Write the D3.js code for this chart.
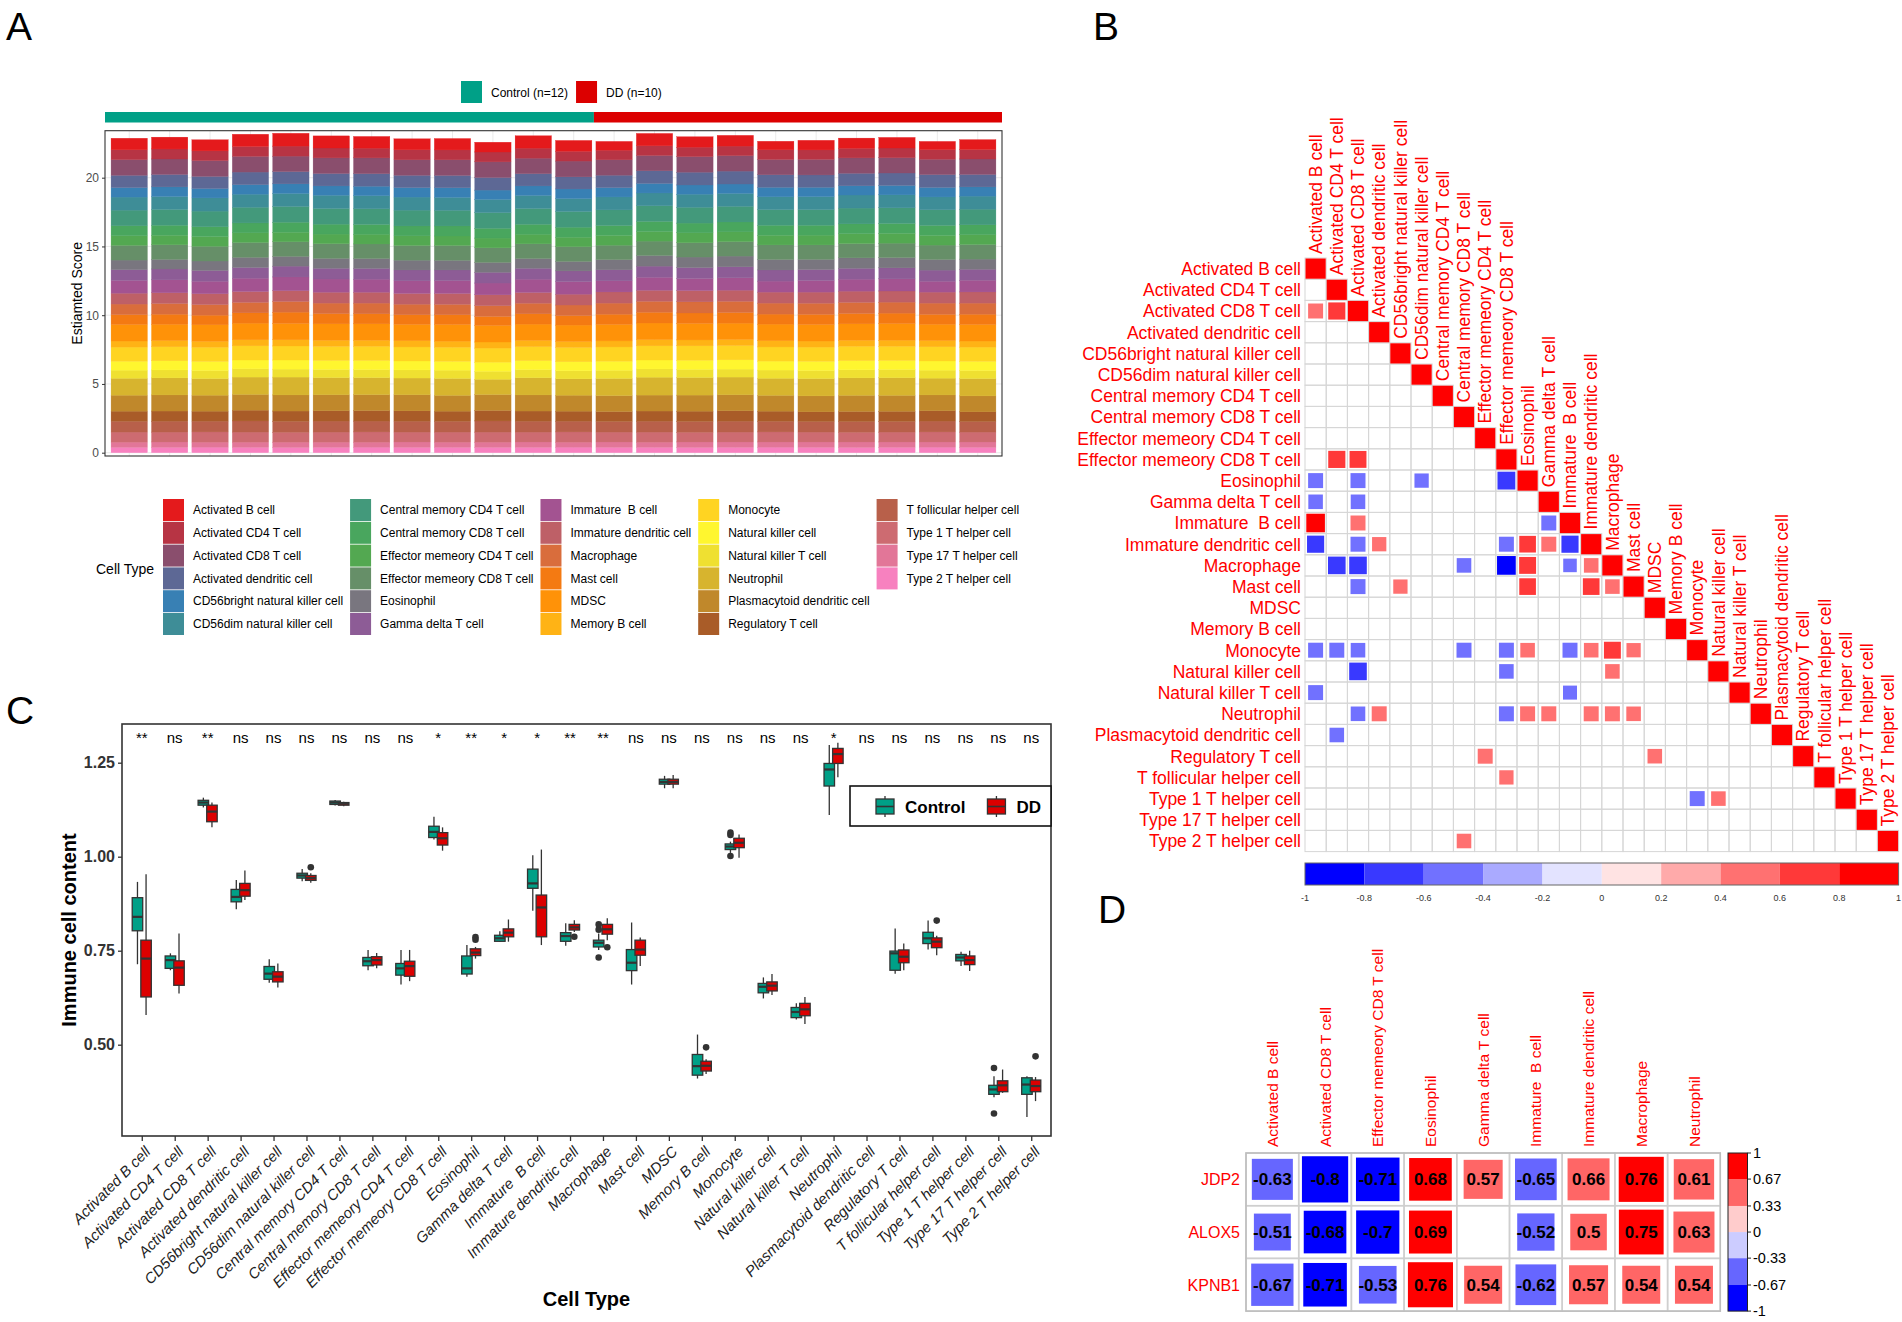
<!DOCTYPE html>
<html>
<head>
<meta charset="utf-8">
<script src="https://cdn.jsdelivr.net/npm/d3@7"></script>
<style>
  body { margin: 0; background: #fff; }
  text { font-family: "Liberation Sans", Arial, Helvetica, sans-serif; white-space: pre; }
</style>
</head>
<body>
<svg id="fig" width="1902" height="1322"></svg>
<script>
// ---------- data ----------
const cellTypes = [
  "Activated B cell", "Activated CD4 T cell", "Activated CD8 T cell", "Activated dendritic cell",
  "CD56bright natural killer cell", "CD56dim natural killer cell", "Central memory CD4 T cell",
  "Central memory CD8 T cell", "Effector memeory CD4 T cell", "Effector memeory CD8 T cell",
  "Eosinophil", "Gamma delta T cell", "Immature  B cell", "Immature dendritic cell", "Macrophage",
  "Mast cell", "MDSC", "Memory B cell", "Monocyte", "Natural killer cell", "Natural killer T cell",
  "Neutrophil", "Plasmacytoid dendritic cell", "Regulatory T cell", "T follicular helper cell",
  "Type 1 T helper cell", "Type 17 T helper cell", "Type 2 T helper cell"
];
const groups = ["Control", "DD"];
const groupLabels = ["Control (n=12)", "DD (n=10)"];

// panel A: estimated score per sample (rows = cell types), 12 Control + 10 DD samples
const scoreControl = [
  [.84,.86,.81,.89,.93,.88,.85,.80,.83,.71,.90,.79],
  [.72,.73,.71,.72,.73,.72,.71,.73,.72,.72,.73,.71],
  [1.14,1.13,1.15,1.14,1.13,1.14,1.15,1.13,1.14,1.14,1.13,1.15],
  [.89,.90,.88,.92,.89,.90,.91,.89,.89,.91,.89,.88],
  [.69,.70,.68,.69,.70,.68,.69,.69,.70,.68,.69,.70],
  [.95,.94,.96,.95,.94,.96,.95,.95,.94,.96,.95,.94],
  [1.14,1.15,1.14,1.14,1.15,1.14,1.14,1.15,1.14,1.14,1.15,1.14],
  [.72,.73,.71,.72,.73,.72,.71,.72,.73,.71,.72,.73],
  [.70,.69,.71,.70,.69,.70,.71,.70,.69,.71,.70,.69],
  [1.07,1.06,1.07,1.08,1.06,1.07,1.06,1.07,1.08,1.06,1.07,1.07],
  [.70,.70,.69,.74,.71,.72,.72,.71,.70,.72,.71,.69],
  [.78,.79,.78,.78,.79,.78,.78,.79,.78,.78,.79,.78],
  [.93,.94,.91,.97,1.00,.96,.95,.92,.93,.86,.97,.91],
  [.79,.78,.79,.79,.78,.79,.79,.78,.79,.79,.78,.79],
  [.77,.78,.77,.76,.78,.77,.78,.77,.76,.78,.77,.77],
  [.72,.73,.70,.75,.82,.74,.73,.70,.71,.66,.75,.69],
  [1.20,1.19,1.20,1.21,1.19,1.20,1.20,1.19,1.21,1.20,1.19,1.20],
  [.44,.45,.43,.44,.45,.44,.43,.45,.44,.44,.45,.43],
  [1.03,1.02,1.04,1.03,1.02,1.03,1.04,1.02,1.03,1.03,1.02,1.04],
  [.65,.66,.65,.64,.66,.65,.66,.65,.64,.66,.65,.65],
  [.59,.58,.59,.60,.58,.59,.58,.59,.60,.58,.59,.59],
  [1.23,1.24,1.21,1.26,1.30,1.25,1.24,1.22,1.23,1.11,1.25,1.19],
  [1.16,1.17,1.16,1.15,1.17,1.16,1.16,1.17,1.15,1.16,1.17,1.16],
  [.74,.74,.73,.78,.75,.75,.76,.75,.74,.76,.74,.73],
  [.78,.79,.78,.81,.79,.80,.79,.79,.78,.81,.79,.78],
  [.73,.72,.74,.73,.72,.73,.74,.72,.73,.73,.72,.74],
  [.38,.39,.37,.38,.39,.38,.37,.39,.38,.38,.39,.37],
  [.39,.39,.40,.39,.38,.39,.40,.39,.39,.39,.39,.40]
];
const scoreDD = [
  [.64,.90,.76,.78,.62,.70,.74,.77,.60,.72],
  [.70,.71,.69,.70,.71,.69,.70,.71,.70,.69],
  [1.12,1.11,1.13,1.12,1.11,1.13,1.12,1.11,1.12,1.13],
  [.90,.92,.93,.94,.91,.90,.91,.91,.93,.90],
  [.68,.69,.67,.68,.69,.68,.67,.68,.69,.67],
  [.94,.93,.95,.94,.93,.94,.95,.94,.93,.95],
  [1.14,1.14,1.15,1.14,1.14,1.14,1.15,1.14,1.14,1.14],
  [.72,.73,.71,.72,.73,.72,.71,.72,.73,.72],
  [.71,.70,.72,.71,.70,.71,.72,.71,.70,.71],
  [1.05,1.05,1.04,1.05,1.06,1.05,1.04,1.05,1.05,1.06],
  [.74,.77,.77,.78,.76,.74,.76,.75,.77,.74],
  [.80,.81,.79,.80,.81,.80,.79,.80,.81,.80],
  [.81,.95,.88,.90,.80,.84,.87,.88,.79,.85],
  [.81,.80,.82,.81,.80,.81,.82,.81,.80,.81],
  [.81,.80,.81,.82,.80,.81,.81,.80,.82,.81],
  [.74,.78,.76,.77,.73,.74,.75,.76,.72,.75],
  [1.20,1.21,1.20,1.19,1.21,1.20,1.20,1.21,1.19,1.20],
  [.44,.45,.43,.44,.45,.44,.43,.44,.45,.44],
  [1.04,1.03,1.05,1.04,1.03,1.04,1.05,1.04,1.03,1.04],
  [.66,.65,.66,.67,.65,.66,.66,.65,.67,.66],
  [.59,.60,.59,.58,.60,.59,.59,.60,.58,.59],
  [1.25,1.30,1.28,1.29,1.24,1.26,1.27,1.28,1.22,1.26],
  [1.16,1.16,1.17,1.16,1.15,1.16,1.17,1.16,1.15,1.16],
  [.72,.74,.75,.76,.74,.71,.74,.74,.75,.71],
  [.77,.79,.78,.79,.77,.76,.77,.77,.79,.76],
  [.72,.73,.71,.72,.73,.72,.71,.72,.73,.72],
  [.39,.38,.40,.39,.38,.39,.40,.39,.38,.39],
  [.39,.39,.38,.39,.40,.39,.38,.39,.40,.39]
];
const scoreTicks = [0, 5, 10, 15, 20];

// panel C: box statistics [lower whisker, q1, median, q3, upper whisker]
const boxControl = [
  [.714,.803,.840,.891,.933], [.698,.703,.725,.736,.743], [1.131,1.137,1.144,1.150,1.157],
  [.860,.880,.893,.913,.938], [.665,.674,.689,.708,.727], [.935,.943,.950,.956,.967],
  [1.136,1.139,1.144,1.148,1.151], [.698,.710,.722,.732,.752], [.660,.685,.703,.716,.752],
  [1.046,1.051,1.066,1.081,1.106], [.681,.688,.703,.736,.765], [.774,.775,.783,.791,.802],
  [.856,.916,.929,.967,1.004], [.763,.775,.789,.798,.823], [.752,.760,.771,.778,.796],
  [.660,.697,.718,.753,.825], [1.182,1.193,1.199,1.206,1.215], [.410,.419,.443,.474,.527],
  [1.010,1.019,1.027,1.034,1.040], [.623,.638,.654,.663,.679], [.567,.572,.587,.599,.610],
  [1.111,1.188,1.232,1.248,1.297], null, [.689,.698,.743,.749,.809],
  [.753,.769,.783,.799,.830], [.709,.723,.732,.740,.747], [.360,.368,.381,.392,.416],
  [.308,.368,.394,.412,.416]
];
const boxDD = [
  [.579,.627,.729,.778,.953], [.636,.658,.705,.723,.796], [1.078,1.093,1.120,1.137,1.144],
  [.885,.895,.911,.929,.963], [.652,.667,.681,.694,.716], [.931,.937,.943,.950,.956],
  [1.134,1.137,1.141,1.144,1.146], [.703,.712,.725,.734,.744], [.669,.682,.709,.722,.752],
  [1.016,1.031,1.049,1.064,1.078], [.729,.737,.745,.755,.760], [.774,.787,.798,.808,.833],
  [.765,.787,.865,.898,1.019], [.800,.805,.812,.820,.831], [.778,.794,.807,.820,.836],
  [.709,.738,.753,.778,.785], [1.182,1.193,1.199,1.206,1.217], [.422,.430,.444,.456,.461],
  [.997,1.024,1.037,1.049,1.059], [.632,.643,.657,.667,.688], [.555,.577,.594,.610,.627],
  [1.211,1.248,1.273,1.288,1.303], null, [.698,.718,.734,.752,.769],
  [.738,.758,.774,.784,.790], [.696,.713,.725,.736,.750], [.372,.375,.392,.404,.434],
  [.350,.375,.390,.406,.414]
];
const outControl = [[],[],[],[],[],[],[],[],[],[],[],[],[],[],[.806,.820,.732],[],[],[],
  [1.058,1.064,1.002],[],[],[],[],[],[],[],[.438,.317],[]];
const outDD = [[],[],[],[],[],[.972],[],[],[],[],[.779,.786],[],[],[.787],[.759],[],[],[.493],
  [],[],[],[],[],[],[.830],[],[],[.469]];
const signif = ["**","ns","**","ns","ns","ns","ns","ns","ns","*","**","*","*","**","**",
  "ns","ns","ns","ns","ns","ns","*","ns","ns","ns","ns","ns","ns"];
const contentTicks = [0.5, 0.75, 1.0, 1.25];

// panel B: significant correlations [row, column, r] (lower triangle)
const corrPairs = [
  [2,0,.55],[2,1,.72],[9,1,.72],[9,2,.70],
  [10,0,-.55],[10,2,-.55],[10,5,-.50],[10,9,-.78],
  [11,0,-.52],[11,2,-.52],
  [12,0,.85],[12,2,.55],[12,11,-.55],
  [13,0,-.72],[13,2,-.55],[13,3,.50],[13,9,-.55],[13,10,.68],[13,11,.55],[13,12,-.72],
  [14,1,-.76],[14,2,-.76],[14,7,-.52],[14,9,-.86],[14,10,.70],[14,12,-.45],[14,13,.52],
  [15,2,-.55],[15,4,.50],[15,10,.68],[15,13,.68],[15,14,.52],
  [18,0,-.55],[18,1,-.55],[18,2,-.52],[18,7,-.55],[18,9,-.55],[18,10,.52],[18,12,-.55],
  [18,13,.52],[18,14,.70],[18,15,.50],
  [19,2,-.76],[19,9,-.52],[19,14,.52],
  [20,0,-.55],[20,12,-.48],
  [21,2,-.52],[21,3,.55],[21,9,-.55],[21,10,.55],[21,11,.55],[21,13,.55],[21,14,.55],[21,15,.52],
  [22,1,-.52],[23,8,.55],[23,16,.52],[24,9,.50],[25,18,-.55],[25,19,.52],[27,7,.52]
];
const corrBreaks = [-1,-0.8,-0.6,-0.4,-0.2,0,0.2,0.4,0.6,0.8,1];

// panel D: gene vs immune cell correlations (null = not significant)
const genes = ["JDP2", "ALOX5", "KPNB1"];
const geneCells = ["Activated B cell", "Activated CD8 T cell", "Effector memeory CD8 T cell",
  "Eosinophil", "Gamma delta T cell", "Immature  B cell", "Immature dendritic cell",
  "Macrophage", "Neutrophil"];
const geneCorr = [
  [-0.63, -0.8, -0.71, 0.68, 0.57, -0.65, 0.66, 0.76, 0.61],
  [-0.51, -0.68, -0.7, 0.69, null, -0.52, 0.5, 0.75, 0.63],
  [-0.67, -0.71, -0.53, 0.76, 0.54, -0.62, 0.57, 0.54, 0.54]
];
const geneBreaks = [-1, -0.67, -0.33, 0, 0.33, 0.67, 1];

// ---------- setup ----------
const FONT = '"Liberation Sans", Arial, Helvetica, sans-serif';
const svg = d3.select("#fig");
const set1 = ["#E41A1C","#377EB8","#4DAF4A","#984EA3","#FF7F00","#FFFF33","#A65628","#F781BF"];
const ramp = d3.piecewise(d3.interpolateRgb, set1);
const cellColor = d3.scaleOrdinal().domain(cellTypes)
  .range(cellTypes.map((c, i) => ramp(i / (cellTypes.length - 1))));
const groupColor = d3.scaleOrdinal().domain(groups).range(["#00A087", "#DC0000"]);
const bwr = d3.piecewise(d3.interpolateRgb, ["#0000FF", "#FFFFFF", "#FF0000"]);

function letter(t, x, y) {
  svg.append("text").attr("x", x).attr("y", y).attr("font-size", 39).text(t);
}

// ---------- panel A ----------
const nC = scoreControl[0].length, nD = scoreDD[0].length;
const samples = d3.range(nC + nD).map(i => "S" + (i + 1));
const rowsA = samples.map((s, i) => ({
  sample: s,
  values: cellTypes.map((c, k) => i < nC ? scoreControl[k][i] : scoreDD[k][i - nC])
}));
const A = { l: 105, r: 1002, t: 130.7, b: 456 };
const xA = d3.scalePoint().domain(samples).range([A.l, A.r]).padding(0.6);
const yA = d3.scaleLinear().domain([0, 20]).range([452.7, 177.7]);
const bwA = xA.step() * 0.9;
const gA = svg.append("g");

gA.append("g").selectAll("line").data(samples).join("line")
  .attr("x1", d => xA(d)).attr("x2", d => xA(d)).attr("y1", A.t).attr("y2", A.b)
  .attr("stroke", "#ebebeb");
gA.append("g").selectAll("line").data(scoreTicks).join("line")
  .attr("x1", A.l).attr("x2", A.r).attr("y1", d => yA(d)).attr("y2", d => yA(d))
  .attr("stroke", "#ebebeb");

const layers = d3.stack().keys(d3.range(cellTypes.length).reverse())
  .value((row, k) => row.values[k])(rowsA);
gA.append("g").selectAll("g").data(layers).join("g")
  .attr("fill", l => cellColor(cellTypes[l.key]))
  .attr("stroke", l => cellColor(cellTypes[l.key])).attr("stroke-width", 0.3)
  .selectAll("rect").data(l => l).join("rect")
  .attr("x", d => xA(d.data.sample) - bwA / 2).attr("width", bwA)
  .attr("y", d => yA(d[1])).attr("height", d => yA(d[0]) - yA(d[1]));

gA.append("rect").attr("x", A.l).attr("y", A.t).attr("width", A.r - A.l).attr("height", A.b - A.t)
  .attr("fill", "none").attr("stroke", "#333").attr("stroke-width", 1.1);

const axA = gA.append("g").attr("transform", `translate(${A.l},0)`)
  .call(d3.axisLeft(yA).tickValues(scoreTicks).tickSize(3).tickPadding(3));
axA.select(".domain").remove();
axA.attr("font-family", FONT);
axA.selectAll("text").attr("font-size", 12).attr("fill", "#4d4d4d");
axA.selectAll("line").attr("stroke", "#333");

gA.append("text").attr("transform", `translate(82,${(A.t + A.b) / 2}) rotate(-90)`)
  .attr("text-anchor", "middle").attr("font-size", 14).text("Estiamted Score");

// group annotation bar
const split = (xA(samples[nC - 1]) + xA(samples[nC])) / 2;
const groupSpan = [[A.l, split], [split, A.r]];
gA.append("g").selectAll("rect").data(groups).join("rect")
  .attr("x", (d, i) => groupSpan[i][0]).attr("width", (d, i) => groupSpan[i][1] - groupSpan[i][0])
  .attr("y", 112).attr("height", 10.5).attr("fill", d => groupColor(d));

// group legend
const gLeg = gA.append("g").attr("transform", "translate(461,81)");
let gx = 0;
groups.forEach((g, i) => {
  gLeg.append("rect").attr("x", gx).attr("y", 0).attr("width", 21).attr("height", 22).attr("fill", groupColor(g));
  const t = gLeg.append("text").attr("x", gx + 30).attr("y", 15.5).attr("font-size", 12).text(groupLabels[i]);
  gx += 30 + t.node().getComputedTextLength() + 8;
});

// cell type legend
const legA = gA.append("g");
legA.append("text").attr("x", 96).attr("y", 574).attr("font-size", 14).text("Cell Type");
let colX = 163;
for (let c = 0; c < Math.ceil(cellTypes.length / 6); c++) {
  const items = cellTypes.slice(c * 6, c * 6 + 6);
  let maxW = 0;
  items.forEach((name, r) => {
    const cy = 510 + r * 22.8;
    legA.append("rect").attr("x", colX).attr("y", cy - 11).attr("width", 21).attr("height", 22)
      .attr("fill", cellColor(name));
    const t = legA.append("text").attr("x", colX + 30).attr("y", cy + 4.2).attr("font-size", 12).text(name);
    maxW = Math.max(maxW, t.node().getComputedTextLength());
  });
  colX += 30 + maxW + 7;
}
letter("A", 6, 40);

// ---------- panel B ----------
const gB = svg.append("g");
const Bc = 21.2, Bl = 1305, Bt = 258;
const xB = d3.scaleBand().domain(cellTypes).range([Bl, Bl + Bc * cellTypes.length]);
const yB = d3.scaleBand().domain(cellTypes).range([Bt, Bt + Bc * cellTypes.length]);
const bwB = xB.bandwidth();
const corrColor = d3.scaleThreshold().domain(corrBreaks.slice(1, -1))
  .range(d3.range(10).map(i => bwr(i / 9)));

const lower = [];
cellTypes.forEach((r, i) => cellTypes.forEach((c, j) => { if (j <= i) lower.push([r, c]); }));
gB.append("g").selectAll("rect").data(lower).join("rect")
  .attr("x", d => xB(d[1])).attr("y", d => yB(d[0])).attr("width", bwB).attr("height", bwB)
  .attr("fill", "none").attr("stroke", "#d6d6d6").attr("stroke-width", 1);

const squares = corrPairs.map(([i, j, r]) => ({ row: cellTypes[i], col: cellTypes[j], r }))
  .concat(cellTypes.map(c => ({ row: c, col: c, r: 1 })));
const sideB = d => Math.sqrt(Math.abs(d.r)) * (bwB - 1);
gB.append("g").selectAll("rect").data(squares).join("rect")
  .attr("x", d => xB(d.col) + (bwB - sideB(d)) / 2).attr("y", d => yB(d.row) + (bwB - sideB(d)) / 2)
  .attr("width", sideB).attr("height", sideB).attr("fill", d => corrColor(d.r));

gB.append("g").selectAll("text").data(cellTypes).join("text")
  .attr("x", Bl - 4).attr("y", d => yB(d) + bwB / 2).attr("dy", "0.36em")
  .attr("text-anchor", "end").attr("font-size", 17.5).attr("fill", "#FF0000").text(d => d);
gB.append("g").selectAll("text").data(cellTypes).join("text")
  .attr("transform", d => `translate(${xB(d) + bwB / 2 + 6.2},${yB(d) - 4}) rotate(-90)`)
  .attr("font-size", 17.5).attr("fill", "#FF0000").text(d => d);

const xCB = d3.scaleLinear().domain([-1, 1]).range([Bl, Bl + Bc * cellTypes.length]);
gB.append("g").selectAll("rect").data(corrBreaks.slice(0, -1)).join("rect")
  .attr("x", d => xCB(d)).attr("y", 863).attr("height", 22)
  .attr("width", (d, i) => xCB(corrBreaks[i + 1]) - xCB(d)).attr("fill", d => corrColor(d + 0.01));
gB.append("rect").attr("x", xCB(-1)).attr("y", 863).attr("width", xCB(1) - xCB(-1)).attr("height", 22)
  .attr("fill", "none").attr("stroke", "#666").attr("stroke-width", 1);
gB.append("g").selectAll("text").data(corrBreaks).join("text")
  .attr("x", d => xCB(d)).attr("y", 901).attr("text-anchor", "middle")
  .attr("font-size", 9).attr("fill", "#333").text(d => String(d));
letter("B", 1093, 40);

// ---------- panel C ----------
const gC = svg.append("g");
const C = { l: 122, r: 1051, t: 724, b: 1136 };
const xC = d3.scalePoint().domain(cellTypes).range([C.l, C.r]).padding(0.6);
const yC = d3.scaleLinear().domain([0.5, 1.25]).range([1044.7, 762.7]);
const dodge = 4.3, boxW = 10.5;

cellTypes.forEach((c, k) => {
  [[boxControl, outControl, -dodge, "Control"], [boxDD, outDD, dodge, "DD"]].forEach(([stats, outs, off, g]) => {
    const s = stats[k];
    if (!s) return;
    const cx = xC(c) + off;
    const bx = gC.append("g");
    bx.append("line").attr("x1", cx).attr("x2", cx).attr("y1", yC(s[0])).attr("y2", yC(s[4]))
      .attr("stroke", "#333").attr("stroke-width", 1.3);
    bx.append("rect").attr("x", cx - boxW / 2).attr("width", boxW)
      .attr("y", yC(s[3])).attr("height", Math.max(1, yC(s[1]) - yC(s[3])))
      .attr("fill", groupColor(g)).attr("stroke", "#333").attr("stroke-width", 1.3);
    bx.append("line").attr("x1", cx - boxW / 2).attr("x2", cx + boxW / 2)
      .attr("y1", yC(s[2])).attr("y2", yC(s[2])).attr("stroke", "#333").attr("stroke-width", 2.2);
    bx.selectAll("circle").data(outs[k]).join("circle")
      .attr("cx", cx).attr("cy", v => yC(v)).attr("r", 3.3).attr("fill", "#333");
  });
});

gC.append("g").selectAll("text").data(cellTypes).join("text")
  .attr("x", d => xC(d)).attr("y", 743).attr("text-anchor", "middle").attr("font-size", 15)
  .text((d, i) => signif[i]);

gC.append("rect").attr("x", C.l).attr("y", C.t).attr("width", C.r - C.l).attr("height", C.b - C.t)
  .attr("fill", "none").attr("stroke", "#333").attr("stroke-width", 1.6);

const axCy = gC.append("g").attr("transform", `translate(${C.l},0)`)
  .call(d3.axisLeft(yC).tickValues(contentTicks).tickFormat(d3.format(".2f")).tickSize(4).tickPadding(3));
axCy.select(".domain").remove();
axCy.attr("font-family", FONT);
axCy.selectAll("text").attr("font-size", 16).attr("font-weight", "bold").attr("fill", "#333");
axCy.selectAll("line").attr("stroke", "#333").attr("stroke-width", 1.3);

const axCx = gC.append("g").attr("transform", `translate(0,${C.b})`)
  .call(d3.axisBottom(xC).tickSize(5).tickFormat(""));
axCx.select(".domain").remove();
axCx.selectAll("line").attr("stroke", "#333").attr("stroke-width", 1.3);
gC.append("g").selectAll("text").data(cellTypes).join("text")
  .attr("transform", d => `translate(${xC(d) + 2},${C.b + 9}) rotate(-45)`)
  .attr("text-anchor", "end").attr("dy", "0.72em").attr("font-size", 15)
  .attr("font-style", "italic").attr("fill", "#222").text(d => d);

gC.append("text").attr("transform", `translate(76,${(C.t + C.b) / 2}) rotate(-90)`)
  .attr("text-anchor", "middle").attr("font-size", 20).attr("font-weight", "bold").text("Immune cell content");
gC.append("text").attr("x", (C.l + C.r) / 2).attr("y", 1306).attr("text-anchor", "middle")
  .attr("font-size", 20).attr("font-weight", "bold").text("Cell Type");

// legend
const legC = gC.append("g").attr("transform", "translate(850,786)");
legC.append("rect").attr("width", C.r - 850).attr("height", 40).attr("fill", "#fff")
  .attr("stroke", "#111").attr("stroke-width", 1.6);
let lx = 26;
groups.forEach(g => {
  const k = legC.append("g").attr("transform", `translate(${lx},0)`);
  k.append("line").attr("x1", 9).attr("x2", 9).attr("y1", 10).attr("y2", 31).attr("stroke", "#333").attr("stroke-width", 1.3);
  k.append("rect").attr("x", 0).attr("y", 13).attr("width", 18).attr("height", 15)
    .attr("fill", groupColor(g)).attr("stroke", "#333").attr("stroke-width", 1.3);
  k.append("line").attr("x1", 0).attr("x2", 18).attr("y1", 20.5).attr("y2", 20.5).attr("stroke", "#333").attr("stroke-width", 1.6);
  const t = k.append("text").attr("x", 29).attr("y", 27).attr("font-size", 17).attr("font-weight", "bold").text(g);
  lx += 29 + t.node().getComputedTextLength() + 22;
});
letter("C", 6, 724);

// ---------- panel D ----------
const gD = svg.append("g");
const Dc = 52.7, Dl = 1246, Dt = 1153;
const xD = d3.scaleBand().domain(geneCells).range([Dl, Dl + Dc * geneCells.length]);
const yD = d3.scaleBand().domain(genes).range([Dt, Dt + Dc * genes.length]);
const geneColor = d3.scaleThreshold().domain(geneBreaks.slice(1, -1))
  .range(d3.range(6).map(i => bwr(i / 5)));
const cellsD = [];
genes.forEach((g, i) => geneCells.forEach((c, j) => cellsD.push({ gene: g, cell: c, r: geneCorr[i][j] })));

gD.append("g").selectAll("rect").data(cellsD).join("rect")
  .attr("x", d => xD(d.cell)).attr("y", d => yD(d.gene)).attr("width", Dc).attr("height", Dc)
  .attr("fill", "none").attr("stroke", "#cfcfcf").attr("stroke-width", 1.5);
const sigD = cellsD.filter(d => d.r !== null);
const sideD = d => Math.sqrt(Math.abs(d.r)) * (Dc - 1);
gD.append("g").selectAll("rect").data(sigD).join("rect")
  .attr("x", d => xD(d.cell) + (Dc - sideD(d)) / 2).attr("y", d => yD(d.gene) + (Dc - sideD(d)) / 2)
  .attr("width", sideD).attr("height", sideD).attr("fill", d => geneColor(d.r));
gD.append("g").selectAll("text").data(sigD).join("text")
  .attr("x", d => xD(d.cell) + Dc / 2).attr("y", d => yD(d.gene) + Dc / 2).attr("dy", "0.36em")
  .attr("text-anchor", "middle").attr("font-size", 17).attr("font-weight", "bold").text(d => String(d.r));
gD.append("rect").attr("x", Dl).attr("y", Dt).attr("width", Dc * geneCells.length).attr("height", Dc * genes.length)
  .attr("fill", "none").attr("stroke", "#bdbdbd").attr("stroke-width", 1.5);

gD.append("g").selectAll("text").data(genes).join("text")
  .attr("x", Dl - 6).attr("y", d => yD(d) + Dc / 2).attr("dy", "0.36em").attr("text-anchor", "end")
  .attr("font-size", 16).attr("fill", "#FF0000").text(d => d);
gD.append("g").selectAll("text").data(geneCells).join("text")
  .attr("transform", d => `translate(${xD(d) + Dc / 2 + 5.6},${Dt - 6}) rotate(-90)`)
  .attr("font-size", 15.5).attr("fill", "#FF0000").text(d => d);

const yCBD = d3.scaleLinear().domain([-1, 1]).range([Dt + Dc * genes.length, Dt]);
gD.append("g").selectAll("rect").data(geneBreaks.slice(0, -1)).join("rect")
  .attr("x", 1728).attr("width", 19.5)
  .attr("y", (d, i) => yCBD(geneBreaks[i + 1])).attr("height", (d, i) => yCBD(d) - yCBD(geneBreaks[i + 1]))
  .attr("fill", d => geneColor(d + 0.005));
gD.append("rect").attr("x", 1728).attr("y", Dt).attr("width", 19.5).attr("height", Dc * genes.length)
  .attr("fill", "none").attr("stroke", "#222").attr("stroke-width", 1);
gD.append("g").selectAll("line").data(geneBreaks).join("line")
  .attr("x1", 1747.5).attr("x2", 1751).attr("y1", d => yCBD(d)).attr("y2", d => yCBD(d)).attr("stroke", "#222");
gD.append("g").selectAll("text").data(geneBreaks).join("text")
  .attr("x", 1753).attr("y", d => yCBD(d)).attr("dy", "0.36em").attr("font-size", 14.5)
  .text(d => String(d));
letter("D", 1098, 923);
</script>
</body>
</html>
